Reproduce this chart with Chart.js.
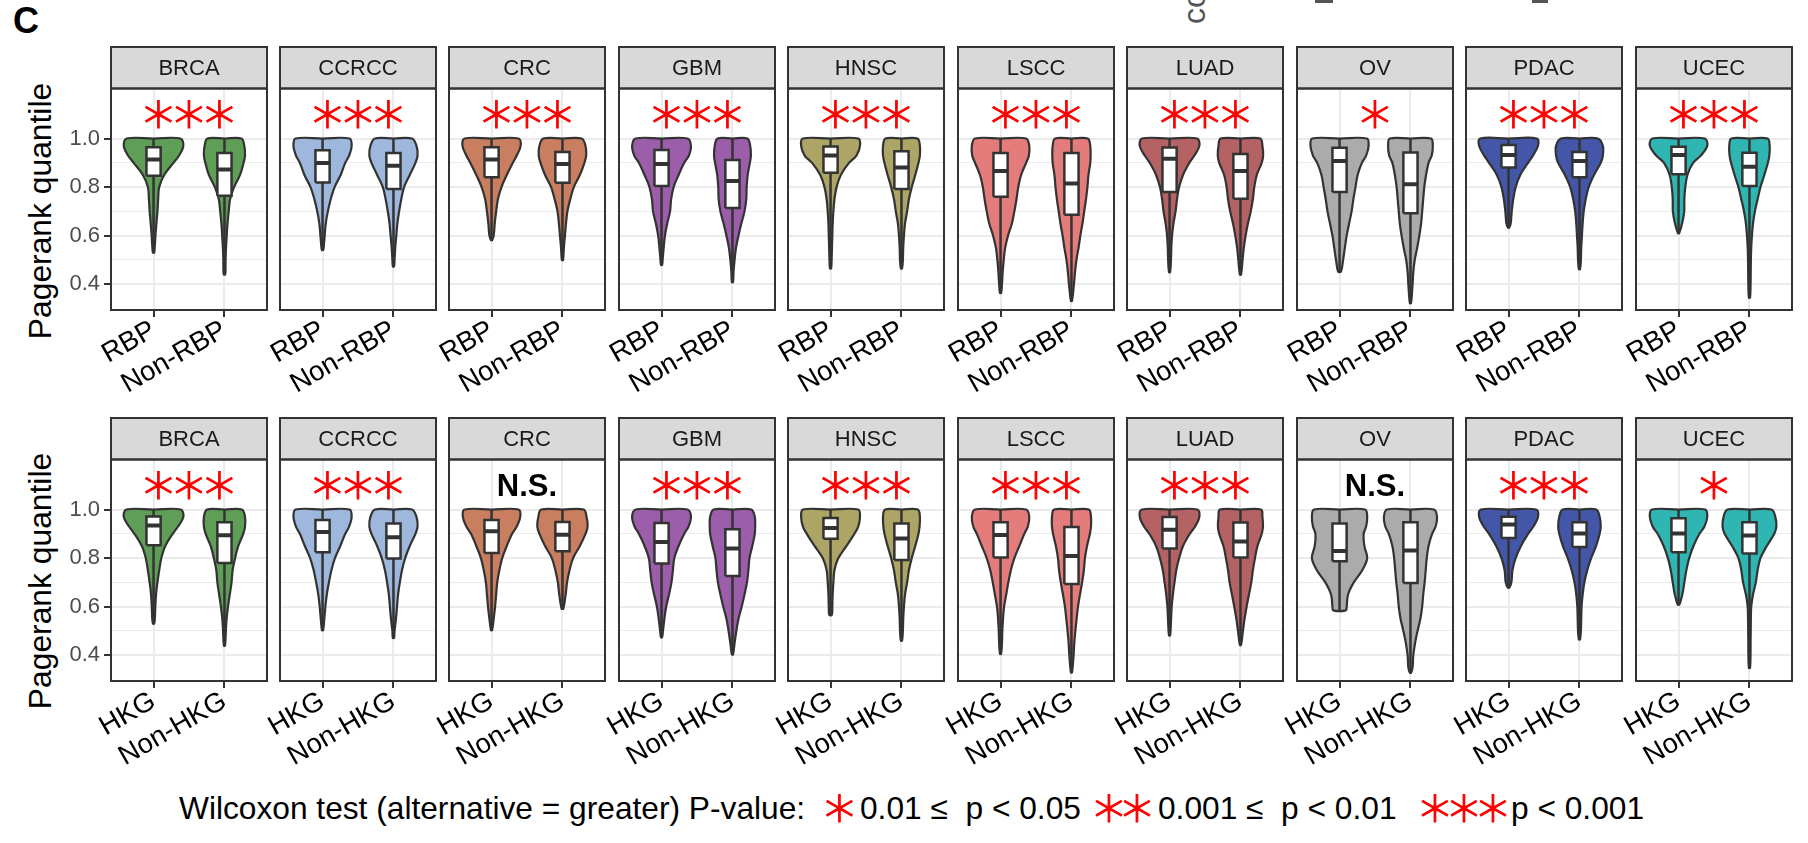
<!DOCTYPE html>
<html>
<head>
<meta charset="utf-8">
<script src="https://cdn.jsdelivr.net/npm/chart.js@4.4.1/dist/chart.umd.min.js"></script>
<style>
  body { margin: 0; width: 1808px; height: 843px; background: #fff; position: relative; overflow: hidden;
         font-family: "Liberation Sans", Arial, Helvetica, sans-serif; }
  canvas { position: absolute; }
  .txt { position: absolute; white-space: pre; line-height: 1; }
  .ytitle { position: absolute; white-space: pre; font-size: 31.8px; line-height: 31.8px; color: #000;
            transform: translate(-50%, -50%) rotate(-90deg); }
  .ast { position: absolute; width: 40px; text-align: center; font-family: "DejaVu Sans"; font-weight: 200;
         font-size: 60px; line-height: 60px; color: #ff0000; -webkit-text-stroke: 1.3px #ff0000; }
</style>
</head>
<body>

<div class="txt" style="left:13px; top:3px; font-size:36px; font-weight:bold; color:#000;">C</div>

<!-- cut-off text of the neighbouring figure at the top edge -->
<div class="txt" style="left:1178px; top:24px; font-size:32px; color:#555; transform-origin:0 0; transform:rotate(-90deg);">co</div>
<div style="position:absolute; left:1315px; top:0; width:18px; height:3px; background:#555;"></div>
<div style="position:absolute; left:1532px; top:0; width:16px; height:3px; background:#555;"></div>

<div class="ytitle" style="left:41px; top:211px;">Pagerank quantile</div>
<div class="ytitle" style="left:41px; top:581px;">Pagerank quantile</div>

<!-- p-value legend -->
<div class="txt" style="left:179px; top:793px; font-size:31.7px;">Wilcoxon test (alternative = greater) P-value:</div>
<div class="ast" style="left:819.5px; top:776px;">∗</div>
<div class="txt" style="left:860px; top:793px; font-size:31.7px;">0.01 ≤  p &lt; 0.05</div>
<div class="ast" style="left:1089px; top:776px;">∗</div>
<div class="ast" style="left:1117px; top:776px;">∗</div>
<div class="txt" style="left:1158px; top:793px; font-size:31.7px;">0.001 ≤  p &lt; 0.01</div>
<div class="ast" style="left:1415px; top:776px;">∗</div>
<div class="ast" style="left:1444px; top:776px;">∗</div>
<div class="ast" style="left:1473px; top:776px;">∗</div>
<div class="txt" style="left:1511px; top:793px; font-size:31.7px;">p &lt; 0.001</div>

<script>
// ---- data ----
const cancers = ['BRCA', 'CCRCC', 'CRC', 'GBM', 'HNSC', 'LSCC', 'LUAD', 'OV', 'PDAC', 'UCEC'];
const fills = ['#5E9E57', '#9DB8DC', '#C97E5F', '#9C5DAA', '#ADA566', '#E47C7B', '#B46264', '#ABABAB', '#4356A8', '#2FB6B2'];
const groupsRBP = ['RBP', 'Non-RBP'];
const groupsHKG = ['HKG', 'Non-HKG'];

// quantile levels at which violin half-widths (in x units) were read
const levels = [1.0, 0.97, 0.93, 0.9, 0.85, 0.8, 0.75, 0.7, 0.65, 0.6, 0.55, 0.5, 0.45, 0.4, 0.35];
const yTickValues = [0.4, 0.5, 0.6, 0.7, 0.8, 0.9, 1.0];
const yTickLabels = ['0.4', '', '0.6', '', '0.8', '', '1.0'];

// top row: RBP vs Non-RBP
const rbpWidths = [
  [[0.38, 0.42, 0.36, 0.28, 0.15, 0.08, 0.065, 0.055, 0.04, 0.027, 0.016],
   [0.24, 0.28, 0.29, 0.27, 0.22, 0.135, 0.08, 0.06, 0.043, 0.032, 0.022, 0.016, 0.014]],
  [[0.38, 0.41, 0.375, 0.32, 0.255, 0.17, 0.115, 0.075, 0.045, 0.03, 0.015],
   [0.26, 0.325, 0.34, 0.31, 0.23, 0.15, 0.11, 0.08, 0.055, 0.04, 0.025, 0.015]],
  [[0.38, 0.41, 0.355, 0.30, 0.215, 0.14, 0.09, 0.065, 0.045, 0.03],
   [0.27, 0.325, 0.335, 0.31, 0.245, 0.16, 0.11, 0.07, 0.05, 0.035, 0.02]],
  [[0.365, 0.415, 0.385, 0.32, 0.24, 0.17, 0.135, 0.12, 0.08, 0.048, 0.03, 0.015],
   [0.21, 0.25, 0.26, 0.245, 0.215, 0.2, 0.195, 0.17, 0.125, 0.085, 0.05, 0.03, 0.015]],
  [[0.39, 0.415, 0.365, 0.26, 0.145, 0.085, 0.055, 0.04, 0.03, 0.025, 0.02, 0.015],
   [0.225, 0.26, 0.26, 0.24, 0.195, 0.145, 0.105, 0.08, 0.05, 0.035, 0.025, 0.02]],
  [[0.36, 0.405, 0.4, 0.36, 0.29, 0.25, 0.225, 0.195, 0.16, 0.105, 0.065, 0.045, 0.03, 0.02],
   [0.23, 0.265, 0.27, 0.265, 0.24, 0.225, 0.205, 0.18, 0.155, 0.125, 0.1, 0.07, 0.05, 0.035]],
  [[0.39, 0.42, 0.35, 0.28, 0.19, 0.135, 0.105, 0.085, 0.055, 0.035, 0.025, 0.02],
   [0.28, 0.31, 0.32, 0.30, 0.23, 0.195, 0.175, 0.145, 0.105, 0.073, 0.047, 0.03]],
  [[0.385, 0.41, 0.375, 0.315, 0.255, 0.225, 0.195, 0.17, 0.135, 0.1, 0.075, 0.05],
   [0.29, 0.315, 0.3, 0.255, 0.22, 0.195, 0.18, 0.165, 0.15, 0.125, 0.095, 0.06, 0.04, 0.03]],
  [[0.40, 0.415, 0.345, 0.275, 0.165, 0.1, 0.066, 0.045, 0.03],
   [0.26, 0.33, 0.33, 0.30, 0.205, 0.13, 0.088, 0.06, 0.045, 0.035, 0.025, 0.02]],
  [[0.37, 0.405, 0.315, 0.205, 0.125, 0.095, 0.082, 0.08, 0.05],
   [0.255, 0.285, 0.28, 0.26, 0.21, 0.155, 0.115, 0.077, 0.05, 0.035, 0.025, 0.02, 0.018, 0.016]]
];
// [lowest value, half-width at the tip]
const rbpLow = [
  [[0.53, 0.008], [0.44, 0.008]], [[0.541, 0.008], [0.473, 0.008]], [[0.582, 0.008], [0.5, 0.008]],
  [[0.48, 0.008], [0.409, 0.008]], [[0.465, 0.008], [0.465, 0.008]], [[0.364, 0.008], [0.332, 0.008]],
  [[0.45, 0.008], [0.44, 0.008]], [[0.452, 0.02], [0.322, 0.008]], [[0.633, 0.008], [0.462, 0.008]],
  [[0.61, 0.008], [0.345, 0.008]]
];
// [q1, median, q3]
const rbpBox = [
  [[0.847, 0.914, 0.964], [0.764, 0.873, 0.94]],
  [[0.819, 0.899, 0.952], [0.792, 0.888, 0.94]],
  [[0.841, 0.914, 0.964], [0.818, 0.895, 0.945]],
  [[0.805, 0.895, 0.953], [0.714, 0.825, 0.912]],
  [[0.859, 0.93, 0.967], [0.792, 0.881, 0.948]],
  [[0.76, 0.866, 0.94], [0.686, 0.815, 0.94]],
  [[0.78, 0.917, 0.963], [0.752, 0.866, 0.936]],
  [[0.78, 0.908, 0.962], [0.692, 0.812, 0.942]],
  [[0.881, 0.932, 0.973], [0.841, 0.908, 0.945]],
  [[0.853, 0.932, 0.966], [0.805, 0.884, 0.941]]
];
const rbpSig = ['***', '***', '***', '***', '***', '***', '***', '*', '***', '***'];

// bottom row: HKG vs Non-HKG
const hkgWidths = [
  [[0.385, 0.42, 0.345, 0.27, 0.165, 0.11, 0.08, 0.055, 0.035, 0.025, 0.018],
   [0.245, 0.29, 0.29, 0.265, 0.195, 0.15, 0.115, 0.1, 0.075, 0.05, 0.03, 0.02]],
  [[0.38, 0.41, 0.375, 0.32, 0.25, 0.175, 0.125, 0.09, 0.06, 0.04, 0.025],
   [0.26, 0.325, 0.34, 0.31, 0.23, 0.165, 0.12, 0.09, 0.065, 0.05, 0.035, 0.015]],
  [[0.38, 0.405, 0.355, 0.29, 0.215, 0.15, 0.11, 0.08, 0.065, 0.05, 0.03],
   [0.3, 0.34, 0.355, 0.325, 0.245, 0.15, 0.1, 0.065, 0.045]],
  [[0.365, 0.415, 0.38, 0.32, 0.24, 0.18, 0.16, 0.14, 0.105, 0.065, 0.04, 0.02],
   [0.265, 0.315, 0.32, 0.315, 0.28, 0.24, 0.225, 0.205, 0.17, 0.13, 0.085, 0.055, 0.03]],
  [[0.39, 0.415, 0.39, 0.335, 0.225, 0.11, 0.055, 0.04, 0.03, 0.025],
   [0.23, 0.26, 0.255, 0.24, 0.195, 0.145, 0.105, 0.08, 0.05, 0.035, 0.025, 0.02]],
  [[0.36, 0.405, 0.385, 0.335, 0.265, 0.195, 0.145, 0.11, 0.08, 0.05, 0.035, 0.025, 0.02],
   [0.245, 0.275, 0.275, 0.26, 0.22, 0.19, 0.175, 0.15, 0.12, 0.092, 0.073, 0.055, 0.04, 0.03]],
  [[0.39, 0.42, 0.36, 0.285, 0.19, 0.135, 0.095, 0.07, 0.047, 0.03, 0.022],
   [0.29, 0.31, 0.318, 0.30, 0.24, 0.205, 0.175, 0.153, 0.12, 0.087, 0.058, 0.035]],
  [[0.36, 0.39, 0.375, 0.34, 0.35, 0.39, 0.32, 0.2, 0.12, 0.1],
   [0.33, 0.375, 0.355, 0.305, 0.255, 0.23, 0.215, 0.2, 0.18, 0.165, 0.14, 0.1, 0.065, 0.04, 0.03]],
  [[0.39, 0.415, 0.35, 0.275, 0.175, 0.1, 0.055, 0.04],
   [0.235, 0.285, 0.3, 0.285, 0.235, 0.165, 0.11, 0.07, 0.045, 0.03, 0.025, 0.02]],
  [[0.375, 0.405, 0.365, 0.295, 0.21, 0.15, 0.11, 0.082, 0.053],
   [0.31, 0.365, 0.38, 0.35, 0.245, 0.155, 0.115, 0.09, 0.05, 0.025, 0.02, 0.018, 0.016, 0.015]]
];
const hkgLow = [
  [[0.53, 0.008], [0.44, 0.008]], [[0.503, 0.008], [0.471, 0.008]], [[0.503, 0.008], [0.592, 0.012]],
  [[0.474, 0.008], [0.403, 0.008]], [[0.566, 0.018], [0.46, 0.008]], [[0.406, 0.008], [0.33, 0.008]],
  [[0.482, 0.008], [0.442, 0.008]], [[0.585, 0.09], [0.328, 0.008]], [[0.678, 0.01], [0.465, 0.008]],
  [[0.609, 0.012], [0.348, 0.008]]
];
const hkgBox = [
  [[0.853, 0.934, 0.971], [0.78, 0.894, 0.948]],
  [[0.824, 0.907, 0.957], [0.798, 0.886, 0.942]],
  [[0.821, 0.911, 0.957], [0.828, 0.896, 0.949]],
  [[0.778, 0.866, 0.945], [0.726, 0.84, 0.919]],
  [[0.88, 0.924, 0.965], [0.792, 0.881, 0.943]],
  [[0.803, 0.895, 0.948], [0.693, 0.809, 0.928]],
  [[0.84, 0.917, 0.969], [0.803, 0.868, 0.947]],
  [[0.787, 0.829, 0.942], [0.698, 0.831, 0.948]],
  [[0.883, 0.938, 0.97], [0.846, 0.901, 0.948]],
  [[0.824, 0.901, 0.964], [0.819, 0.893, 0.948]]
];
const hkgSig = ['***', '***', 'N.S.', '***', '***', '***', '***', 'N.S.', '***', '*'];

// ---- layout ----
const FONT = '"Liberation Sans", Arial, Helvetica, sans-serif';
const EDGE = '#333333';
const GRID = '#EBEBEB';
const LEFT0 = 110.5, PITCH = 169.45, PANEL_W = 156;
const STRIP_H = 41.5, PLOT_H = 221.5;
const ROW_TOP = [46.5, 418];
const Y_AXIS_W = 70, X_AXIS_H = 100, PAD_TOP = 4, PAD_RIGHT = 8;
const BOX_HW = 0.1;
const AST_GAP = 30.5;

function violinPath(c, widths, low) {
  const [lo, tip] = low;
  const right = [], left = [];
  widths.forEach((w, i) => {
    const y = levels[i];
    if (y <= lo) return;
    right.push({x: c + w, y: y});
    left.unshift({x: c - w, y: y});
  });
  return [{x: c, y: 1}, ...right, {x: c + tip, y: lo}, {x: c - tip, y: lo}, ...left, {x: c, y: 1}];
}

function buildDatasets(widths, lows, boxes, color) {
  const sets = [];
  [1, 2].forEach((c, g) => {
    const lo = lows[g][0];
    const [q1, med, q3] = boxes[g];
    sets.push({ data: violinPath(c, widths[g], lows[g]), showLine: true, fill: 'shape', backgroundColor: color,
                borderColor: EDGE, borderWidth: 2.2, tension: 0.35, pointRadius: 0, order: 4 });
    sets.push({ data: [{x: c, y: lo}, {x: c, y: 1}], showLine: true, borderColor: EDGE, borderWidth: 2.5,
                pointRadius: 0, order: 3 });
    sets.push({ data: [{x: c - BOX_HW, y: q1}, {x: c + BOX_HW, y: q1}, {x: c + BOX_HW, y: q3}, {x: c - BOX_HW, y: q3}, {x: c - BOX_HW, y: q1}],
                showLine: true, fill: 'shape', backgroundColor: '#ffffff', borderColor: EDGE, borderWidth: 2.5,
                borderJoinStyle: 'miter', pointRadius: 0, order: 2 });
    sets.push({ data: [{x: c - BOX_HW, y: med}, {x: c + BOX_HW, y: med}], showLine: true, borderColor: EDGE,
                borderWidth: 4, borderCapStyle: 'butt', pointRadius: 0, order: 1 });
  });
  return sets;
}

function centerText(ctx, s, cx, cy, stroke) {
  ctx.textAlign = 'center';
  ctx.textBaseline = 'alphabetic';
  const m = ctx.measureText(s);
  const y = cy + (m.actualBoundingBoxAscent - m.actualBoundingBoxDescent) / 2;
  ctx.fillText(s, cx, y);
  if (stroke) ctx.strokeText(s, cx, y);
}

// strip, panel frame and significance marks
const panelDecor = {
  id: 'panelDecor',
  afterDatasetsDraw(chart, args, opts) {
    const {ctx} = chart;
    const cx = chart.scales.x.getPixelForValue(1.5);
    const cy = chart.scales.y.getPixelForValue(1.1);
    ctx.save();
    if (opts.sig === 'N.S.') {
      ctx.font = 'bold 31px ' + FONT;
      ctx.fillStyle = '#000';
      centerText(ctx, opts.sig, cx, cy);
    } else {
      ctx.font = '200 60px "DejaVu Sans"';
      ctx.fillStyle = '#ff0000';
      ctx.strokeStyle = '#ff0000';
      ctx.lineWidth = 1.3;
      const n = opts.sig.length;
      for (let i = 0; i < n; i++) centerText(ctx, '∗', cx + (i - (n - 1) / 2) * AST_GAP, cy, true);
    }
    ctx.restore();
  },
  afterDraw(chart, args, opts) {
    const {ctx, chartArea: a} = chart;
    ctx.save();
    ctx.fillStyle = '#D9D9D9';
    ctx.fillRect(a.left, a.top - STRIP_H, a.width, STRIP_H);
    ctx.strokeStyle = EDGE;
    ctx.lineWidth = 2;
    ctx.strokeRect(a.left, a.top - STRIP_H, a.width, STRIP_H);
    ctx.strokeRect(a.left, a.top, a.width, a.height);
    ctx.font = '22px ' + FONT;
    ctx.fillStyle = '#1A1A1A';
    centerText(ctx, opts.label, (a.left + a.right) / 2, a.top - STRIP_H / 2);
    ctx.restore();
  }
};

const rows = [
  {groups: groupsRBP, widths: rbpWidths, lows: rbpLow, boxes: rbpBox, sig: rbpSig},
  {groups: groupsHKG, widths: hkgWidths, lows: hkgLow, boxes: hkgBox, sig: hkgSig}
];

rows.forEach((row, r) => {
  cancers.forEach((name, col) => {
    const canvas = document.createElement('canvas');
    canvas.width = Y_AXIS_W + PANEL_W + PAD_RIGHT;
    canvas.height = PAD_TOP + STRIP_H + PLOT_H + X_AXIS_H;
    canvas.style.left = (LEFT0 + col * PITCH - Y_AXIS_W) + 'px';
    canvas.style.top = (ROW_TOP[r] - PAD_TOP) + 'px';
    document.body.appendChild(canvas);

    const first = col === 0;
    new Chart(canvas, {
      type: 'scatter',
      data: { datasets: buildDatasets(row.widths[col], row.lows[col], row.boxes[col], fills[col]) },
      options: {
        responsive: false,
        animation: false,
        devicePixelRatio: 1,
        events: [],
        layout: { autoPadding: false, padding: { top: PAD_TOP + STRIP_H, left: 0, right: PAD_RIGHT, bottom: 0 } },
        plugins: {
          legend: { display: false },
          tooltip: { enabled: false },
          panelDecor: { label: name, sig: row.sig[col] }
        },
        scales: {
          x: {
            type: 'linear', min: 0.4, max: 2.6, bounds: 'data',
            afterBuildTicks: s => { s.ticks = [{value: 1}, {value: 2}]; },
            afterFit: s => { s.height = X_AXIS_H; },
            ticks: {
              callback: (v, i) => row.groups[i],
              autoSkip: false, minRotation: 30, maxRotation: 30, padding: -3,
              color: '#000', font: { family: FONT, size: 27.5 }
            },
            grid: { color: GRID, lineWidth: 2, tickColor: EDGE, tickLength: 7, tickWidth: 2 },
            border: { display: false }
          },
          y: {
            type: 'linear', min: 0.294, max: 1.206, bounds: 'data',
            afterBuildTicks: s => { s.ticks = yTickValues.map(v => ({value: v})); },
            afterFit: s => { s.width = Y_AXIS_W; },
            ticks: {
              display: first,
              callback: (v, i) => yTickLabels[i],
              padding: 4, color: '#4D4D4D', font: { family: FONT, size: 22 }
            },
            grid: {
              color: GRID,
              lineWidth: ctx => yTickLabels[ctx.index] ? 2 : 1,
              drawTicks: first,
              tickLength: 7, tickWidth: 2,
              tickColor: ctx => yTickLabels[ctx.index] ? EDGE : 'rgba(0,0,0,0)'
            },
            border: { display: false }
          }
        }
      },
      plugins: [panelDecor]
    });
  });
});
</script>
</body>
</html>
